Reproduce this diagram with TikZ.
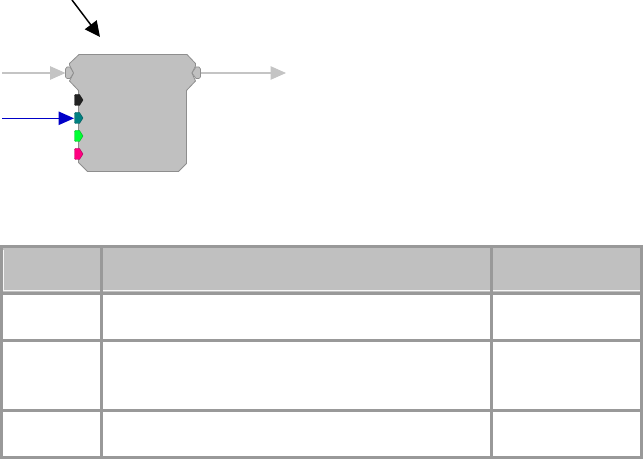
\documentclass[tikz,border=0pt]{standalone}
\usetikzlibrary{arrows.meta}
\definecolor{blockgray}{HTML}{C0C0C0}
\definecolor{edgegray}{HTML}{8E8E8E}
\definecolor{rulegray}{HTML}{999999}
\definecolor{wiregray}{HTML}{C4C4C4}
\definecolor{portblack}{HTML}{222222}
\definecolor{portteal}{HTML}{008080}
\definecolor{portgreen}{HTML}{00FF33}
\definecolor{portpink}{HTML}{FF0080}
\definecolor{wireblue}{HTML}{0000C8}
\tikzset{
  wire/.style={line width=0.85pt,-{Triangle[length=11.5pt,width=10pt]}},
  tablerule/.style={fill=rulegray,draw=none},
  headcell/.style={fill=blockgray,draw=none},
  bodycell/.style={fill=white,draw=none},
  portshape/.style={draw=#1!70!black,line width=0.3pt,fill=#1},
}
\begin{document}
\begin{tikzpicture}[x=0.75pt,y=-0.75pt]
\useasboundingbox (0,0) rectangle (643,459);
\fill[white] (0,0) rectangle (643,459);
% free ends and port anchors
\coordinate (blackstart) at (72,0);
\coordinate (blackend) at (100,37);
\coordinate (instart) at (2,73);
\coordinate (inport) at (65.5,73);
\coordinate (outport) at (200.5,73);
\coordinate (outend) at (286,73);
\coordinate (bluestart) at (2,118.3);
\coordinate (blueport) at (74,118.3);
% block
\draw[fill=blockgray,draw=edgegray,line width=0.6pt]
  (79,54.5) -- (187,54.5) -- (195.5,63.5) -- (195.5,66) -- (192,73) -- (195.5,81) -- (186.5,90.5)
  -- (186.5,163.5) -- (178.5,171.5) -- (87.5,171.5) -- (78.5,162.5) -- (78.5,90.5) -- (69.5,81)
  -- (73.5,73) -- (69.5,65) -- (69.5,63.5) -- cycle;
% gray ports
\draw[fill=blockgray,draw=edgegray,line width=0.5pt]
  (65.5,69) -- (67,67) -- (70,67) -- (73.5,73) -- (70,78.5) -- (67,78.5) -- (65.5,77) -- cycle;
\draw[fill=blockgray,draw=edgegray,line width=0.5pt]
  (200.5,69) -- (199,67) -- (196,67) -- (192,73) -- (196,78.5) -- (199,78.5) -- (200.5,77) -- cycle;
% coloured ports
\foreach \yy/\cc in {100/portblack,118/portteal,136/portgreen,154/portpink}{
  \draw[portshape=\cc] (74.5,\yy-4.5) -- (75.5,\yy-5.5) -- (79.5,\yy-5.5) -- (83,\yy) -- (79.5,\yy+5.5) -- (75.5,\yy+5.5) -- (74.5,\yy+4.5) -- cycle;
}
% connectors
\draw[line width=1.1pt,black,-{Triangle[length=11.5pt,width=11pt]}] (blackstart) -- (blackend);
\draw[wire,wiregray] (instart) -- (inport);
\draw[wire,wiregray] (outport) -- (outend);
\draw[wire,wireblue] (bluestart) -- (blueport);
% table
\fill[tablerule] (0,245) rectangle (643,459);
\fill[headcell] (3,248) rectangle (100,292);
\fill[headcell] (103,248) rectangle (490,292);
\fill[headcell] (493,248) rectangle (640,292);
\fill[white!85!blockgray] (3,290) rectangle (100,291.3);
\fill[white!85!blockgray] (103,290) rectangle (490,291.3);
\fill[white!85!blockgray] (493,290) rectangle (640,291.3);
\fill[white!85!blockgray] (3,250) rectangle (4,291);
\foreach \ya/\yb in {295/339,342/409,412/456}{
  \fill[bodycell] (3,\ya) rectangle (100,\yb);
  \fill[bodycell] (103,\ya) rectangle (490,\yb);
  \fill[bodycell] (493,\ya) rectangle (640,\yb);
}
\end{tikzpicture}
\end{document}
